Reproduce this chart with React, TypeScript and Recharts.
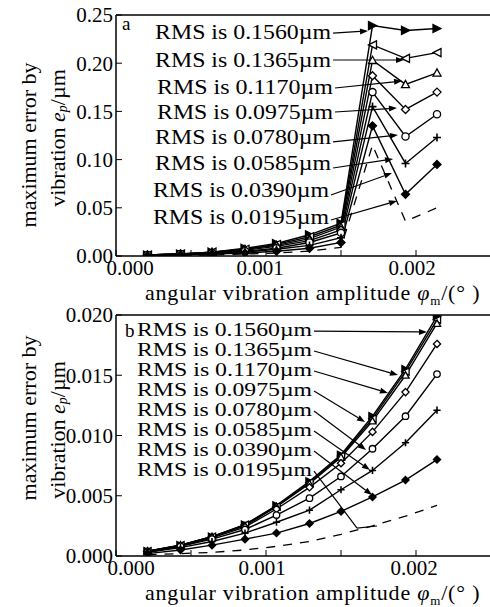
import * as React from 'react';
import { LineChart, Line, XAxis, YAxis, ReferenceLine } from 'recharts';

const FONT = '"Liberation Serif", "Times New Roman", Times, serif';

// angular vibration amplitude of the computed points (deg)
const amplitudes = [0.00021, 0.00043, 0.00064, 0.00086, 0.00107, 0.00129, 0.0015, 0.00171, 0.00193, 0.00214];

const rmsValues = ['0.1560', '0.1365', '0.1170', '0.0975', '0.0780', '0.0585', '0.0390', '0.0195'];
const markerKinds = ['right', 'left', 'up', 'diamond', 'circle', 'plus', 'solid', 'none'];

// panel a - max error (um)
const a1560 = [0.001, 0.002, 0.004, 0.008, 0.013, 0.022, 0.034, 0.239, 0.234, 0.236];
const a1365 = [0.001, 0.002, 0.004, 0.007, 0.012, 0.020, 0.032, 0.219, 0.205, 0.211];
const a1170 = [0.001, 0.002, 0.004, 0.007, 0.011, 0.018, 0.030, 0.203, 0.178, 0.190];
const a0975 = [0.001, 0.002, 0.003, 0.006, 0.010, 0.016, 0.027, 0.187, 0.152, 0.170];
const a0780 = [0.001, 0.002, 0.003, 0.005, 0.008, 0.014, 0.024, 0.170, 0.124, 0.147];
const a0585 = [0.001, 0.001, 0.003, 0.004, 0.007, 0.011, 0.019, 0.155, 0.096, 0.123];
const a0390 = [0.000, 0.001, 0.002, 0.003, 0.005, 0.008, 0.014, 0.135, 0.064, 0.095];
const a0195 = [0.000, 0.001, 0.001, 0.002, 0.003, 0.005, 0.009, 0.115, 0.036, 0.050];

// panel b - max error (um)
const b1560 = [0.0004, 0.0009, 0.0016, 0.0026, 0.0042, 0.0062, 0.0084, 0.0116, 0.0155, 0.0199];
const b1365 = [0.0004, 0.0009, 0.0016, 0.0026, 0.0041, 0.0061, 0.0083, 0.0114, 0.0153, 0.0196];
const b1170 = [0.0004, 0.0009, 0.0016, 0.0025, 0.0041, 0.0060, 0.0082, 0.0112, 0.0150, 0.0193];
const b0975 = [0.0004, 0.0008, 0.0015, 0.0024, 0.0039, 0.0057, 0.0077, 0.0103, 0.0136, 0.0176];
const b0780 = [0.0003, 0.0008, 0.0014, 0.0022, 0.0034, 0.0048, 0.0066, 0.0089, 0.0116, 0.0151];
const b0585 = [0.0003, 0.0007, 0.0012, 0.0019, 0.0028, 0.0038, 0.0055, 0.0071, 0.0094, 0.0121];
const b0390 = [0.0002, 0.0005, 0.0009, 0.0014, 0.0019, 0.0027, 0.0037, 0.0049, 0.0063, 0.0080];
const b0195 = [0.0001, 0.0002, 0.0003, 0.0005, 0.0008, 0.0012, 0.0018, 0.0025, 0.0033, 0.0042];

const xTicks = [0, 0.0005, 0.001, 0.0015, 0.002, 0.0025];
const xTickLabels = ['0.000', '0.001', '0.002'];
const aYTicks = [0, 0.05, 0.1, 0.15, 0.2, 0.25];
const bYTicks = [0, 0.005, 0.01, 0.015, 0.02];

// annotation arrows: label end -> arrow tip (data coords)
const aNotes = [
    { from: [0.001447, 0.2313], to: [0.00168, 0.2334], dy: -1 },
    { from: [0.001447, 0.2033], to: [0.00192, 0.2033], dy: 0 },
    { from: [0.00146, 0.1743], to: [0.001907, 0.1815], dy: -1 },
    { from: [0.00146, 0.1494], to: [0.001873, 0.1535], dy: 0 },
    { from: [0.001447, 0.1183], to: [0.00188, 0.1255], dy: -5 },
    { from: [0.001447, 0.0913], to: [0.001847, 0.1006], dy: -5 },
    { from: [0.001433, 0.0633], to: [0.00184, 0.0861], dy: -5 },
    { from: [0.001433, 0.0373], to: [0.001873, 0.0571], dy: -3 },
];
const bNotes = [
    { from: [0.00132, 0.01867], to: [0.002073, 0.01859], dy: -1 },
    { from: [0.00132, 0.01701], to: [0.00188, 0.01502], dy: -1 },
    { from: [0.00132, 0.01535], to: [0.001813, 0.01353], dy: -1 },
    { from: [0.00132, 0.01369], to: [0.00166, 0.01112], dy: -1 },
    { from: [0.00132, 0.01203], to: [0.001667, 0.0088], dy: -1 },
    { from: [0.00132, 0.01037], to: [0.001693, 0.00714], dy: -1 },
    { from: [0.00132, 0.00871], to: [0.001707, 0.00506], dy: -1 },
    { from: [0.00132, 0.00705], to: [0.001607, 0.00232], dy: -1, hook: [0.00174, 0.00249] },
];

function renderMarker(kind: string, s: number) {
    return (p: any) => {
        const { cx, cy, index } = p;
        const key = `${kind}-${index}`;
        if (cx == null || cy == null) return <g key={key} />;
        const sw = 1.3;
        switch (kind) {
            case 'right':
                return <polygon key={key} points={`${cx + s},${cy} ${cx - s},${cy - s} ${cx - s},${cy + s}`} fill='#000' stroke='#000' strokeWidth={sw} />;
            case 'left':
                return <polygon key={key} points={`${cx - s},${cy} ${cx + s},${cy - s} ${cx + s},${cy + s}`} fill='#fff' stroke='#000' strokeWidth={sw} />;
            case 'up':
                return <polygon key={key} points={`${cx},${cy - s} ${cx - s},${cy + s * 0.8} ${cx + s},${cy + s * 0.8}`} fill='#fff' stroke='#000' strokeWidth={sw} />;
            case 'diamond':
                return <polygon key={key} points={`${cx},${cy - s} ${cx + s},${cy} ${cx},${cy + s} ${cx - s},${cy}`} fill='#fff' stroke='#000' strokeWidth={sw} />;
            case 'circle':
                return <circle key={key} cx={cx} cy={cy} r={s * 0.9} fill='#fff' stroke='#000' strokeWidth={sw} />;
            case 'plus':
                return <path key={key} d={`M${cx - s},${cy}H${cx + s}M${cx},${cy - s}V${cy + s}`} stroke='#000' strokeWidth={1.6} />;
            case 'solid':
                return <polygon key={key} points={`${cx},${cy - s} ${cx + s},${cy} ${cx},${cy + s} ${cx - s},${cy}`} fill='#000' stroke='#000' strokeWidth={sw} />;
            default:
                return <g key={key} />;
        }
    };
}

function arrowShape(rms: string, textLen: number, fontSize: number, dy: number, head: boolean) {
    return (p: any) => {
        const { x1, y1, x2, y2 } = p;
        const ang = Math.atan2(y2 - y1, x2 - x1);
        const h = head ? 8 : 0;
        const w = 3;
        const bx = x2 - h * Math.cos(ang);
        const by = y2 - h * Math.sin(ang);
        const pts = `${x2},${y2} ${bx + w * Math.sin(ang)},${by - w * Math.cos(ang)} ${bx - w * Math.sin(ang)},${by + w * Math.cos(ang)}`;
        return (
            <g>
                <line x1={x1} y1={y1} x2={bx} y2={by} stroke='#000' strokeWidth={1.2} />
                {head && <polygon points={pts} fill='#000' />}
                {rms && (
                    <text x={x1 - 2} y={y1 + dy + fontSize * 0.33} textAnchor='end' textLength={textLen}
                        lengthAdjust='spacingAndGlyphs' fontFamily={FONT} fontSize={fontSize} fill='#000'>
                        {`RMS is ${rms}\u00b5m`}
                    </text>
                )}
            </g>
        );
    };
}

function XTick(props: any) {
    const { x, y, payload, shifts } = props;
    const v = payload.value;
    const idx = [0, 0.001, 0.002].findIndex((t) => Math.abs(t - v) < 1e-9);
    if (idx < 0) return <g />;
    return (
        <text x={x + shifts[idx]} y={y} dy='0.75em' textAnchor='middle' fontFamily={FONT} fontSize={21} fill='#000'>
            {xTickLabels[idx]}
        </text>
    );
}

function YTick(props: any) {
    const { x, y, payload, digits } = props;
    return (
        <text x={x} y={y} dy='0.35em' textAnchor='end' fontFamily={FONT} fontSize={21} fill='#000'>
            {payload.value.toFixed(digits)}
        </text>
    );
}

function YTitle({ c1, c2, letter, lx, ly }: any) {
    return (
        <g fontFamily={FONT} fill='#000'>
            <text transform={`translate(28, ${c1}) rotate(-90)`} textAnchor='middle' dominantBaseline='central' fontSize={22}>
                maximum error by
            </text>
            <text transform={`translate(57, ${c2}) rotate(-90)`} textAnchor='middle' dominantBaseline='central' fontSize={22}>
                vibration <tspan fontStyle='italic'>e</tspan>
                <tspan fontStyle='italic' fontSize={14} dy={5}>p</tspan>
                <tspan dy={-5}>/{'\u00b5'}m</tspan>
            </text>
            <text x={lx} y={ly} fontSize={19}>{letter}</text>
        </g>
    );
}

function XTitle() {
    return (
        <text x={145} y={300} fontFamily={FONT} fontSize={22} letterSpacing={0.8} fill='#000'>
            angular vibration amplitude <tspan fontStyle='italic'>{'\u03c6'}</tspan>
            <tspan fontSize={13} dy={5}>m</tspan>
            <tspan dy={-5}>/({'\u00b0'} )</tspan>
        </text>
    );
}

interface PanelProps {
    series: number[][];
    height: number;
    yTicks: number[];
    digits: number;
    notes: any[];
    textLen: number;
    noteFont: number;
    markerSize: number;
    xShifts: number[];
    c1: number;
    c2: number;
    letter: string;
    lx: number;
    ly: number;
}

function Panel(props: PanelProps) {
    const { series, height, yTicks, digits, notes, textLen, noteFont, xShifts } = props;
    const rows = amplitudes.map((x, i) => {
        const r: any = { x };
        series.forEach((s, j) => { r['s' + j] = s[i]; });
        return r;
    });
    const yMax = yTicks[yTicks.length - 1];
    const axisStroke = { stroke: '#000', strokeWidth: 1.5 };
    return (
        <LineChart width={492} height={height} data={rows} margin={{ top: 14, right: 0, bottom: 0, left: 0 }}>
            <XAxis dataKey='x' type='number' domain={[0, 0.0025]} ticks={xTicks} allowDataOverflow
                height={height - 15 - 241} axisLine={axisStroke} tickLine={{ stroke: '#000' }}
                tickSize={-6} tickMargin={9} interval={0}
                tick={(p: any) => <XTick {...p} shifts={xShifts} />}
                label={{ content: () => <XTitle /> }} />
            <XAxis xAxisId='top' orientation='top' dataKey='x' type='number' domain={[0, 0.0025]} ticks={xTicks}
                allowDataOverflow height={1} axisLine={axisStroke} tickLine={{ stroke: '#000' }}
                tickSize={-6} tick={false} interval={0} />
            <YAxis type='number' domain={[0, yMax]} ticks={yTicks} allowDataOverflow width={116}
                axisLine={axisStroke} tickLine={{ stroke: '#000' }} tickSize={-6} tickMargin={9} interval={0}
                tick={(p: any) => <YTick {...p} digits={digits} />}
                label={{ content: () => <YTitle c1={props.c1} c2={props.c2} letter={props.letter} lx={props.lx} ly={props.ly} /> }} />
            <YAxis yAxisId='right' orientation='right' type='number' domain={[0, yMax]} ticks={yTicks}
                allowDataOverflow width={1} axisLine={axisStroke} tickLine={{ stroke: '#000' }}
                tickSize={-6} tick={false} interval={0} />
            {series.map((s, j) => (
                <Line key={'s' + j} dataKey={'s' + j} type='linear' stroke='#000'
                    strokeWidth={markerKinds[j] === 'none' ? 1.3 : 1.4}
                    strokeDasharray={markerKinds[j] === 'none' ? '9 8' : undefined}
                    dot={markerKinds[j] === 'none' ? false : renderMarker(markerKinds[j], props.markerSize)}
                    activeDot={false} isAnimationActive={false} />
            ))}
            {notes.map((n, j) => (
                <ReferenceLine key={'n' + j}
                    segment={[{ x: n.from[0], y: n.from[1] }, { x: n.to[0], y: n.to[1] }]}
                    shape={arrowShape(rmsValues[j], textLen, noteFont, n.dy, !n.hook)} />
            ))}
            {notes.filter((n) => n.hook).map((n, j) => (
                <ReferenceLine key={'h' + j}
                    segment={[{ x: n.to[0], y: n.to[1] }, { x: n.hook[0], y: n.hook[1] }]}
                    shape={arrowShape('', 0, noteFont, 0, false)} />
            ))}
        </LineChart>
    );
}

export default function App() {
    return (
        <div style={{ position: 'absolute', left: 0, top: 0, width: 490, height: 607, overflow: 'hidden', background: '#fff' }}>
            <div style={{ position: 'absolute', left: 0, top: 0 }}>
                <Panel series={[a1560, a1365, a1170, a0975, a0780, a0585, a0390, a0195]} height={312}
                    yTicks={aYTicks} digits={2} notes={aNotes} textLen={176} noteFont={21} markerSize={4}
                    xShifts={[14, -6, -4]} c1={145} c2={138} letter='a' lx={122} ly={30} />
            </div>
            <div style={{ position: 'absolute', left: 0, top: 300 }}>
                <Panel series={[b1560, b1365, b1170, b0975, b0780, b0585, b0390, b0195]} height={307}
                    yTicks={bYTicks} digits={3} notes={bNotes} textLen={175} noteFont={19} markerSize={3.6}
                    xShifts={[15, -4, -2]} c1={118} c2={130} letter='b' lx={125} ly={37} />
            </div>
        </div>
    );
}
